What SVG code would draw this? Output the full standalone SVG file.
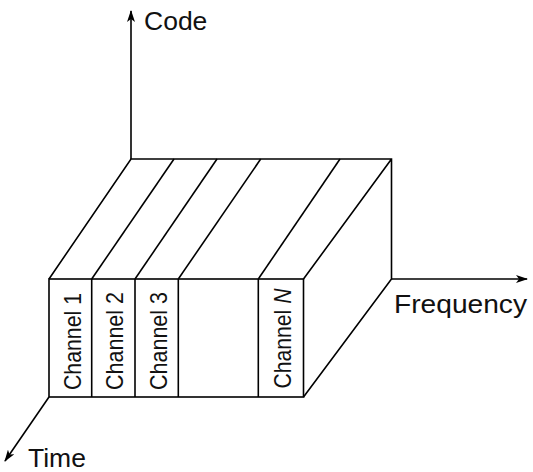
<svg xmlns="http://www.w3.org/2000/svg" width="533" height="472" viewBox="0 0 533 472">
  <defs>
    <marker id="arrow" viewBox="0 0 12 8" refX="11" refY="4" markerWidth="12" markerHeight="8" markerUnits="userSpaceOnUse" orient="auto">
      <path d="M0,0 L12,4 L0,8 L3,4 Z" fill="#000"/>
    </marker>
    <style>
      .edge { fill: none; stroke: #000; stroke-width: 1.6; stroke-linejoin: miter; }
      .axis { fill: none; stroke: #000; stroke-width: 1.6; }
      .axis-label { font-family: "Liberation Sans", Arial, sans-serif; font-size: 26.5px; fill: #111; }
      .ch-label { font-family: "Liberation Sans", Arial, sans-serif; font-size: 24.5px; fill: #111; text-anchor: middle; }
    </style>
  </defs>
  <rect width="533" height="472" fill="#fff"/>

  <!-- axes -->
  <g id="connectors">
    <line class="axis" x1="131" y1="159" x2="131" y2="11" marker-end="url(#arrow)"/>
    <line class="axis" x1="391.5" y1="279" x2="527" y2="279" marker-end="url(#arrow)"/>
    <line class="axis" x1="49" y1="397" x2="5" y2="461" marker-end="url(#arrow)"/>
  </g>

  <g id="axis-code">
    <text class="axis-label" x="144" y="30">Code</text>
  </g>
  <g id="axis-frequency">
    <text class="axis-label" x="394" y="313" textLength="133" lengthAdjust="spacingAndGlyphs">Frequency</text>
  </g>
  <g id="axis-time">
    <text class="axis-label" x="28" y="467" font-size="27px">Time</text>
  </g>

  <!-- block: top face, right face, front face -->
  <g id="block">
    <path class="edge" d="M49,279 L131,159 L391.5,159 L391.5,279 L303.5,397 M391.5,159 L303.5,279"/>
    <line class="edge" x1="91.7" y1="279" x2="174" y2="159"/>
    <line class="edge" x1="135" y1="279" x2="217" y2="159"/>
    <line class="edge" x1="178.3" y1="279" x2="260.7" y2="159"/>
    <line class="edge" x1="258.3" y1="279" x2="340" y2="159"/>
    <rect class="edge" x="49" y="279" width="254.5" height="118"/>
  </g>

  <g id="channel-1">
    <line class="edge" x1="91.7" y1="279" x2="91.7" y2="397"/>
    <text class="ch-label" transform="translate(80.5,341.5) rotate(-90)" textLength="97" lengthAdjust="spacingAndGlyphs">Channel 1</text>
  </g>
  <g id="channel-2">
    <line class="edge" x1="135" y1="279" x2="135" y2="397"/>
    <text class="ch-label" transform="translate(123,341) rotate(-90)" textLength="98" lengthAdjust="spacingAndGlyphs">Channel 2</text>
  </g>
  <g id="channel-3">
    <line class="edge" x1="178.3" y1="279" x2="178.3" y2="397"/>
    <text class="ch-label" transform="translate(166.5,341) rotate(-90)" textLength="98" lengthAdjust="spacingAndGlyphs">Channel 3</text>
  </g>
  <g id="channel-gap">
    <line class="edge" x1="258.3" y1="279" x2="258.3" y2="397"/>
  </g>
  <g id="channel-n">
    <text class="ch-label" transform="translate(291,338.5) rotate(-90)" textLength="100" lengthAdjust="spacingAndGlyphs">Channel <tspan font-style="italic">N</tspan></text>
  </g>
</svg>
